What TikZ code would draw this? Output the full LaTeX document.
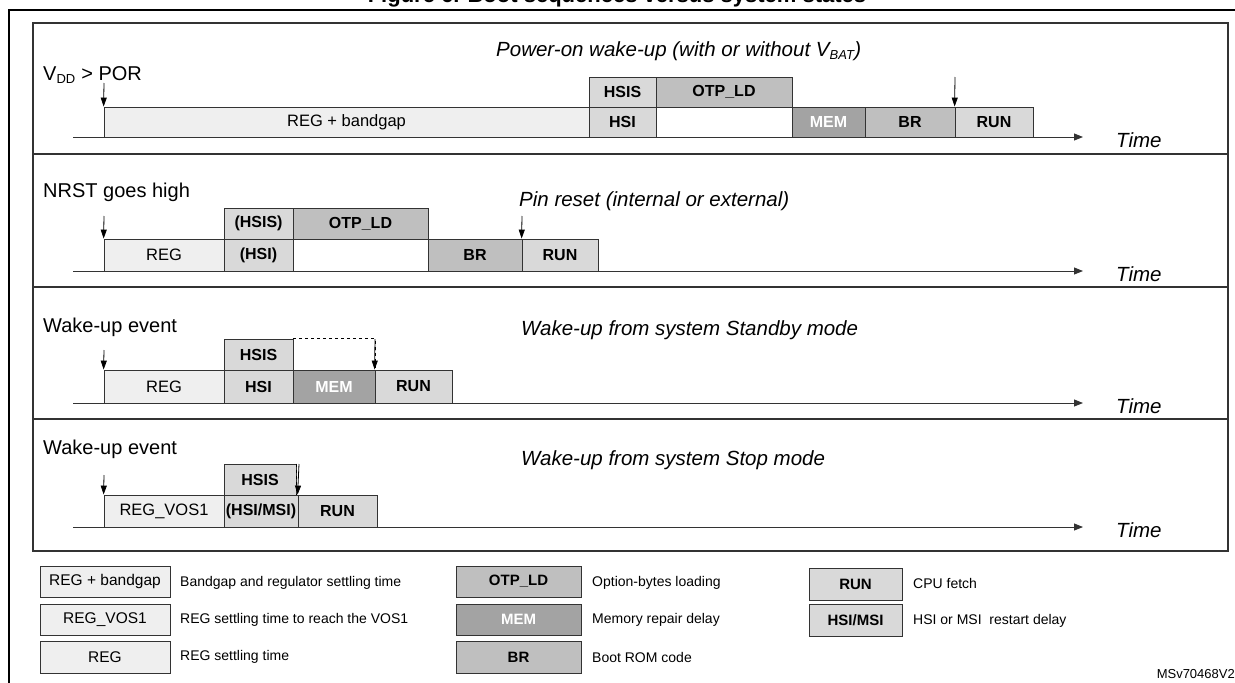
\documentclass[tikz,border=0pt]{standalone}
\usepackage{fontspec}
\setmainfont{Liberation Sans}
\usetikzlibrary{arrows.meta}
\definecolor{cA}{HTML}{EFEFEF}
\definecolor{cB}{HTML}{D9D9D9}
\definecolor{cC}{HTML}{BFBFBF}
\definecolor{cM}{HTML}{A3A3A3}
\tikzset{
 bx/.style={draw=black!80,line width=0.8pt,inner sep=0,font=\fontsize{16.5}{16.5}\selectfont},
 bb/.style={bx,font=\fontsize{16}{16}\selectfont\bfseries},
 lbl/.style={anchor=west,inner sep=0,font=\fontsize{20}{20}\selectfont},
 ttl/.style={anchor=west,inner sep=0,font=\fontsize{20.5}{20.5}\selectfont\itshape},
 lg/.style={anchor=west,inner sep=0,font=\fontsize{14}{14}\selectfont},
 axis/.style={line width=0.9pt,draw=black!80,-{Triangle[length=9pt,width=7pt]}},
 ev/.style={line width=0.8pt,-{Triangle[length=9pt,width=6pt]}},
}
\begin{document}
\begin{tikzpicture}[x=1pt,y=-1pt]
\useasboundingbox (0,0) rectangle (1235,683);
% title clipped
\node[anchor=base,font=\fontsize{22}{22}\selectfont\bfseries] (title) at (617,2) {Figure 6. Boot sequences versus system states};
\draw[line width=2pt] (9,683) -- (9,10) -- (1240,10);
\draw[line width=1.2pt,draw=black!80] (33,23) rectangle (1228,551);
\draw[line width=1.2pt,draw=black!80] (33,154) -- (1228,154) (33,287) -- (1228,287) (33,419) -- (1228,419);
% box macro: \B{style}{fill}{x1}{x2}{y1}{y2}{text}{name}
\def\B#1#2#3#4#5#6#7#8{%
 \node[#1,fill=#2,minimum width={(#4-#3)*1pt},minimum height={(#6-#5)*1pt},anchor=center] (#8) at ({(#3+#4)/2},{(#5+#6)/2}) {#7};}
% ---------- panel 1
\node[ttl] (p1t) at (496,51) {Power-on wake-up (with or without V\textsubscript{\fontsize{13}{13}\selectfont BAT})};
\node[lbl] (p1l) at (43,75) {V\textsubscript{\fontsize{13}{13}\selectfont DD} > POR};
\B{bx}{cA}{104}{589}{107}{137}{REG + bandgap}{a1}
\B{bb}{cB}{589}{656}{107}{137}{HSI}{a2}
\B{bb}{cB}{589}{656}{77}{107}{HSIS}{a3}
\B{bb}{cC}{656}{792}{77}{107}{OTP\_LD}{a4}
\B{bx}{white}{656}{792}{107}{137}{}{a5}
\B{bb}{cM}{792}{865}{107}{137}{\textcolor{white}{MEM}}{a6}
\B{bb}{cC}{865}{955}{107}{137}{BR}{a7}
\B{bb}{cB}{955}{1033}{107}{137}{RUN}{a8}
\coordinate (e1) at (104,83); \coordinate (e2) at (955,77);
\draw[ev] (e1) -- (a1.north west);
\draw[ev] (e2) -- (a8.north west);
\coordinate (ax1s) at (73,137); \coordinate (ax1e) at (1083,137);
\draw[axis] (ax1s) -- (ax1e);
\node[ttl] (t1) at (1116,140) {Time};
% ---------- panel 2
\node[lbl] (p2l) at (43,192) {NRST goes high};
\node[ttl] (p2t) at (519,201) {Pin reset (internal or external)};
\B{bx}{cA}{104}{224}{239}{271}{REG}{b1}
\B{bb}{cB}{224}{293}{239}{271}{(HSI)}{b2}
\B{bb}{cB}{224}{293}{208}{239}{(HSIS)}{b3}
\B{bb}{cC}{293}{428}{208}{239}{OTP\_LD}{b4}
\B{bx}{white}{293}{428}{239}{271}{}{b5}
\B{bb}{cC}{428}{522}{239}{271}{BR}{b6}
\B{bb}{cB}{522}{598}{239}{271}{RUN}{b7}
\coordinate (f1) at (104,216); \coordinate (f2) at (522,216);
\draw[ev] (f1) -- (b1.north west);
\draw[ev] (f2) -- (b7.north west);
\coordinate (ax2s) at (73,271); \coordinate (ax2e) at (1083,271);
\draw[axis] (ax2s) -- (ax2e);
\node[ttl] (t2) at (1116,274) {Time};
% ---------- panel 3
\node[lbl] (p3l) at (43,327) {Wake-up event};
\node[ttl] (p3t) at (521,330) {Wake-up from system Standby mode};
\B{bx}{cA}{104}{224}{370}{403}{REG}{c1}
\B{bb}{cB}{224}{293}{370}{403}{HSI}{c2}
\B{bb}{cB}{224}{293}{339}{370}{HSIS}{c3}
\B{bb}{cM}{293}{375}{370}{403}{\textcolor{white}{MEM}}{c4}
\B{bb}{cB}{375}{452}{370}{403}{RUN}{c5}
\draw[dashed,line width=0.8pt] (c3.north east) -- (c4.north east |- c3.north) -- (c4.north east);
\coordinate (g1) at (104,350); \coordinate (g2) at (375,339);
\draw[ev] (g1) -- (c1.north west);
\draw[ev] (g2) -- (c5.north west);
\coordinate (ax3s) at (73,403); \coordinate (ax3e) at (1083,403);
\draw[axis] (ax3s) -- (ax3e);
\node[ttl] (t3) at (1116,406) {Time};
% ---------- panel 4
\node[lbl] (p4l) at (43,449) {Wake-up event};
\node[ttl] (p4t) at (521,460) {Wake-up from system Stop mode};
\B{bx}{cA}{104}{224}{495}{527}{REG\_VOS1}{d1}
\B{bb}{cB}{224}{298}{495}{527}{(HSI/MSI)}{d2}
\B{bb}{cB}{224}{296}{464}{495}{HSIS}{d3}
\B{bb}{cB}{298}{377}{495}{527}{RUN}{d4}
\draw[dashed,line width=0.8pt] (d3.north east) -- (d3.south east);
\coordinate (h1) at (104,475); \coordinate (h2) at (299,464);
\draw[ev] (h1) -- (d1.north west);
\draw[ev] (h2) -- (d4.north west);
\coordinate (ax4s) at (73,527); \coordinate (ax4e) at (1083,527);
\draw[axis] (ax4s) -- (ax4e);
\node[ttl] (t4) at (1116,530) {Time};
% ---------- legend
\tikzset{bx/.append style={font=\fontsize{15.5}{15.5}\selectfont},bb/.append style={font=\fontsize{15}{15}\selectfont\bfseries}}
\B{bx}{cA}{40}{170}{566}{597}{REG + bandgap}{l1}
\B{bx}{cA}{40}{170}{604}{635}{REG\_VOS1}{l2}
\B{bx}{cA}{40}{170}{641}{673}{REG}{l3}
\node[lg] (l1t) at (180,583) {Bandgap and regulator settling time};
\node[lg] (l2t) at (180,620) {REG settling time to reach the VOS1};
\node[lg] (l3t) at (180,657) {REG settling time};
\B{bb}{cC}{456}{581}{566}{597}{OTP\_LD}{m1}
\B{bb}{cM}{456}{581}{604}{635}{\textcolor{white}{MEM}}{m2}
\B{bb}{cC}{456}{581}{641}{673}{BR}{m3}
\node[lg] (m1t) at (592,583) {Option-bytes loading};
\node[lg] (m2t) at (592,620) {Memory repair delay};
\node[lg] (m3t) at (592,657) {Boot ROM code};
\B{bb}{cB}{809}{902}{568}{600}{RUN}{n1}
\B{bb}{cB}{809}{902}{604}{636}{HSI/MSI}{n2}
\node[lg] (n1t) at (913,583) {CPU fetch};
\node[lg] (n2t) at (913,621) {HSI or MSI~ restart delay};
\node[anchor=east,inner sep=0,font=\fontsize{13}{13}\selectfont] (ref) at (1235,674) {MSv70468V2};
\end{tikzpicture}
\end{document}
